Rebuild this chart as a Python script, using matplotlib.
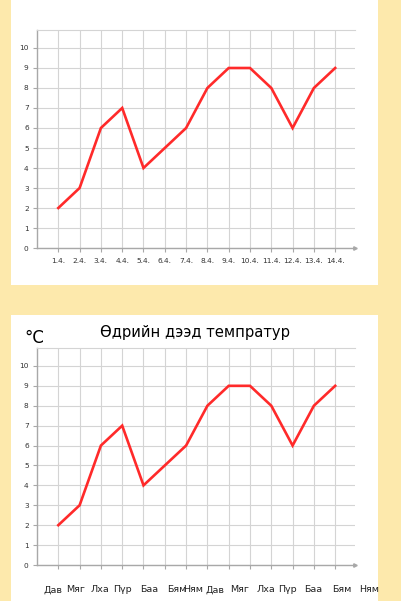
import matplotlib
matplotlib.use("Agg")
import matplotlib.pyplot as plt
from matplotlib.patches import Rectangle
import numpy as np

# ---- data ----
temps = [2, 3, 6, 7, 4, 5, 6, 8, 9, 9, 8, 6, 8, 9]
dates = ["1.4.", "2.4.", "3.4.", "4.4.", "5.4.", "6.4.", "7.4.",
         "8.4.", "9.4.", "10.4.", "11.4.", "12.4.", "13.4.", "14.4."]
days = ["Дав", "Мяг", "Лха", "Пүр", "Баа", "Бям", "Ням",
        "Дав", "Мяг", "Лха", "Пүр", "Баа", "Бям", "Ням"]
y_ticks = list(range(0, 11))
title = "Өдрийн дээд темпратур"
unit = "°C"

# ---- layout (label positions in the hand-placed bottom row, data units) ----
day_label_x = [0.77, 1.83, 2.96, 3.99, 5.26, 6.57, 7.33,
               8.36, 9.53, 10.75, 11.74, 12.96, 14.32, 15.59]

W, H = 401, 601
BG = "#FDE9AC"
RED = "#FF2A2A"
GRID = "#D4D4D4"
AXC = "#A8A8A8"

fig = plt.figure(figsize=(W / 100, H / 100), dpi=100)
fig.patch.set_facecolor(BG)

def px_rect(x0, y0, x1, y1):
    return [x0 / W, 1 - y1 / H, (x1 - x0) / W, (y1 - y0) / H]

# white panels
for (x0, y0, x1, y1) in [(11, -5, 378, 285), (11, 315, 378, 606)]:
    r = px_rect(x0, y0, x1, y1)
    fig.patches.append(Rectangle((r[0], r[1]), r[2], r[3], transform=fig.transFigure,
                                 facecolor="white", edgecolor="none", zorder=-5))

xs = np.arange(1, len(temps) + 1)

def style_axes(ax):
    ax.set_zorder(2)
    ax.set_facecolor("none")
    ax.set_xlim(0, 14.93)
    ax.set_ylim(0, 10.9)
    ax.set_xticks(xs)
    ax.set_yticks(y_ticks)
    ax.grid(True, color=GRID, linewidth=0.8)
    ax.set_axisbelow(True)
    ax.spines["right"].set_visible(False)
    ax.spines["top"].set_color(GRID)
    ax.spines["top"].set_linewidth(0.8)
    for s in ["left", "bottom"]:
        ax.spines[s].set_color(AXC)
        ax.spines[s].set_linewidth(1.0)
    ax.tick_params(axis="both", direction="out", length=3, width=0.8,
                   color=AXC, labelsize=5.3, labelcolor="#333333", pad=3)
    ax.plot(xs, temps, color=RED, linewidth=1.9, solid_joinstyle="miter", zorder=3)
    ax.plot([1], [0], marker=">", markersize=2.5, color=AXC,
            transform=ax.transAxes, clip_on=False)

# top chart
ax1 = fig.add_axes(px_rect(37, 30, 355, 248))
style_axes(ax1)
ax1.set_xticklabels(dates)
ax1.tick_params(axis="x", pad=4)

# bottom chart
ax2 = fig.add_axes(px_rect(37, 348, 355, 565))
style_axes(ax2)
ax2.set_xticklabels([])
for lx, lab in zip(day_label_x, days):
    ax2.text(lx, -25 / 217, lab, transform=ax2.get_xaxis_transform(),
             ha="center", va="center", fontsize=6.8, color="#222222", clip_on=False)

fig.text(195 / W, 1 - 333 / H, title, ha="center", va="center", fontsize=10.6,
         color="#000000")
fig.text(24 / W, 1 - 338 / H, unit, ha="left", va="center", fontsize=12,
         color="#000000")

fig.savefig("out.png", dpi=100, facecolor=BG)
